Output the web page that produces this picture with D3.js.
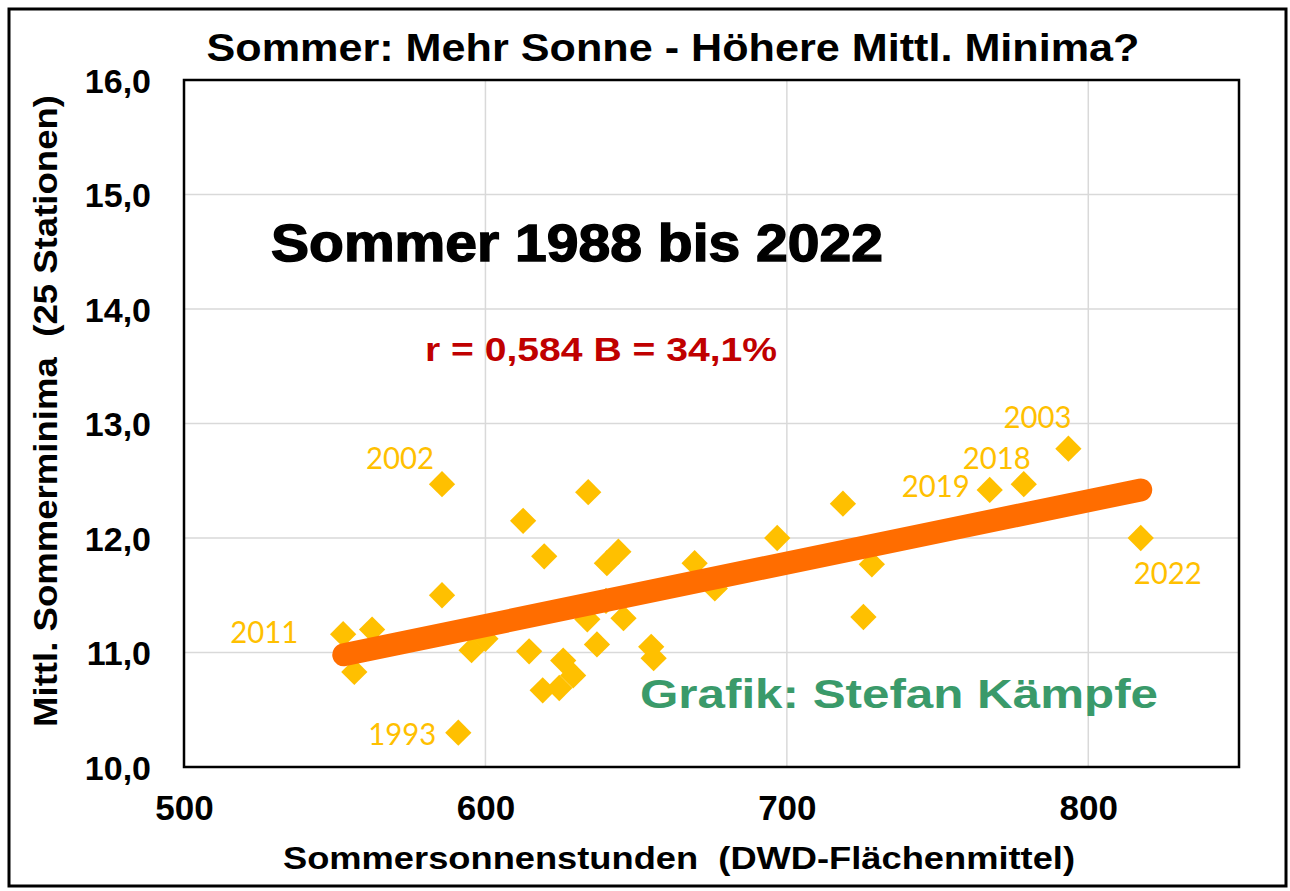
<!DOCTYPE html>
<html><head><meta charset="utf-8">
<script src="https://cdn.jsdelivr.net/npm/d3@7"></script>
<style>
html,body{margin:0;padding:0;background:#fff;}
svg text{white-space:pre;}
</style></head>
<body>
<svg id="chart" width="1290" height="891"></svg>
<script>
// ---- data ----
const sunHours = [552.8, 556.5, 562.4, 585.6, 585.6, 591.0, 595.4, 600.0, 612.5, 614.5, 619.0, 619.5, 624.5, 625.8, 629.1, 634.1, 633.8, 637.0, 640.3, 644.1, 640.0, 645.8, 655.0, 655.8, 669.4, 676.1, 696.8, 718.6, 725.4, 728.2, 767.3, 778.6, 793.4, 817.4];
const minTemp  = [11.16, 10.83, 11.20, 12.47, 11.50, 10.30, 11.02, 11.12, 12.15, 11.01, 10.67, 11.84, 10.69, 10.93, 10.80, 12.40, 11.29, 11.07, 11.78, 11.88, 11.45, 11.30, 11.05, 10.95, 11.78, 11.56, 12.00, 12.30, 11.31, 11.77, 12.42, 12.47, 12.78, 12.00];
const labelYears = ["2011", "2002", "1993", "2019", "2018", "2003", "2022"];
const labelIndex = [0, 3, 5, 30, 31, 32, 33];
const trendX = [553, 817.4];
const trendY = [10.98, 12.42];
const xTicks = [500, 600, 700, 800];
const yTicks = [10, 11, 12, 13, 14, 15, 16];
const titleText = "Sommer: Mehr Sonne - Höhere Mittl. Minima?";
const xTitle = "Sommersonnenstunden  (DWD-Flächenmittel)";
const yTitle = "Mittl. Sommerminima  (25 Stationen)";
const periodText = "Sommer 1988 bis 2022";
const statText = "r = 0,584 B = 34,1%";
const creditText = "Grafik: Stefan Kämpfe";

// ---- layout ----
const svg = d3.select("#chart");
const L = 184, R = 1239, T = 80, B = 767;
const x = d3.scaleLinear().domain([500, 850]).range([L, R]);
const y = d3.scaleLinear().domain([10, 16]).range([B, T]);
const FONT = "'Liberation Sans', Arial, sans-serif";

// outer frame
svg.append("rect").attr("x", 9).attr("y", 9).attr("width", 1277).attr("height", 877)
  .attr("fill", "#fff").attr("stroke", "#000").attr("stroke-width", 3);

// gridlines
svg.append("g").selectAll("line").data(yTicks.filter(v => v > 10 && v < 16)).join("line")
  .attr("x1", L).attr("x2", R).attr("y1", d => y(d)).attr("y2", d => y(d))
  .attr("stroke", "#d9d9d9").attr("stroke-width", 1.5);
svg.append("g").selectAll("line").data(xTicks.filter(v => v > 500)).join("line")
  .attr("y1", T).attr("y2", B).attr("x1", d => x(d)).attr("x2", d => x(d))
  .attr("stroke", "#d9d9d9").attr("stroke-width", 1.5);

// axes (labels only)
const xAxis = svg.append("g").attr("transform", `translate(0,${B})`)
  .call(d3.axisBottom(x).tickValues(xTicks).tickSize(0).tickPadding(46).tickFormat(d3.format("d")));
xAxis.select(".domain").remove();
xAxis.selectAll("text").attr("font-family", FONT).attr("font-weight", "bold")
  .attr("font-size", 35).attr("fill", "#000").attr("dy", "0.2em");

const yAxis = svg.append("g").attr("transform", `translate(${L},0)`)
  .call(d3.axisLeft(y).tickValues(yTicks).tickSize(0).tickPadding(33)
    .tickFormat(d => d3.format(".1f")(d).replace(".", ",")));
yAxis.select(".domain").remove();
yAxis.selectAll("text").attr("font-family", FONT).attr("font-weight", "bold")
  .attr("font-size", 34).attr("fill", "#000").attr("dy", "0.36em");

// plot border
svg.append("rect").attr("x", L).attr("y", T).attr("width", R - L).attr("height", B - T)
  .attr("fill", "none").attr("stroke", "#000").attr("stroke-width", 2.5);

// texts inside plot
svg.append("text").attr("x", 577).attr("y", 261).attr("text-anchor", "middle")
  .attr("font-family", FONT).attr("font-weight", "bold").attr("font-size", 51)
  .attr("stroke", "#000").attr("stroke-width", 1.4)
  .attr("textLength", 612).attr("lengthAdjust", "spacingAndGlyphs").text(periodText);
svg.append("text").attr("x", 601).attr("y", 361).attr("text-anchor", "middle")
  .attr("font-family", FONT).attr("font-weight", "bold").attr("font-size", 34)
  .attr("fill", "#c00000").attr("textLength", 352).attr("lengthAdjust", "spacingAndGlyphs").text(statText);
svg.append("text").attr("x", 899).attr("y", 708).attr("text-anchor", "middle")
  .attr("font-family", FONT).attr("font-weight", "bold").attr("font-size", 41)
  .attr("fill", "#3a9a6a").attr("textLength", 518).attr("lengthAdjust", "spacingAndGlyphs").text(creditText);

// points (rotated squares like Excel diamonds)
const pts = sunHours.map((h, i) => ({h, t: minTemp[i]}));
const sym = d3.symbol().type(d3.symbolSquare).size(345);
svg.append("g").selectAll("path").data(pts).join("path")
  .attr("d", sym)
  .attr("transform", d => `translate(${x(d.h)},${y(d.t)}) rotate(45)`)
  .attr("fill", "#ffc000");

// trend line
svg.append("path")
  .datum(trendX.map((v, i) => [v, trendY[i]]))
  .attr("d", d3.line().x(d => x(d[0])).y(d => y(d[1])))
  .attr("stroke", "#ff6d00").attr("stroke-width", 23).attr("stroke-linecap", "round").attr("fill", "none");

// year labels
const labelOffset = {"2011": [-79, 9], "2002": [-42, -15], "1993": [-56, 12], "2019": [-54, 7],
                     "2018": [-27, -15], "2003": [-31, -21], "2022": [27, 46]};
svg.append("g").selectAll("text").data(labelYears).join("text")
  .attr("x", (d, i) => x(sunHours[labelIndex[i]]) + labelOffset[d][0])
  .attr("y", (d, i) => y(minTemp[labelIndex[i]]) + labelOffset[d][1])
  .attr("text-anchor", "middle").attr("font-family", "Lato, 'Open Sans', sans-serif")
  .attr("font-size", 30).attr("fill", "#ffc000")
  .attr("textLength", 68).attr("lengthAdjust", "spacingAndGlyphs").text(d => d);

// titles
svg.append("text").attr("x", 673).attr("y", 61).attr("text-anchor", "middle")
  .attr("font-family", FONT).attr("font-weight", "bold").attr("font-size", 39)
  .attr("textLength", 933).attr("lengthAdjust", "spacingAndGlyphs").text(titleText);
svg.append("text").attr("x", 679).attr("y", 869).attr("text-anchor", "middle")
  .attr("font-family", FONT).attr("font-weight", "bold").attr("font-size", 32)
  .attr("textLength", 792).attr("lengthAdjust", "spacingAndGlyphs").text(xTitle);
svg.append("text").attr("transform", "translate(57,411) rotate(-90)").attr("text-anchor", "middle")
  .attr("font-family", FONT).attr("font-weight", "bold").attr("font-size", 33)
  .attr("textLength", 632).attr("lengthAdjust", "spacingAndGlyphs").text(yTitle);
</script>
</body></html>
